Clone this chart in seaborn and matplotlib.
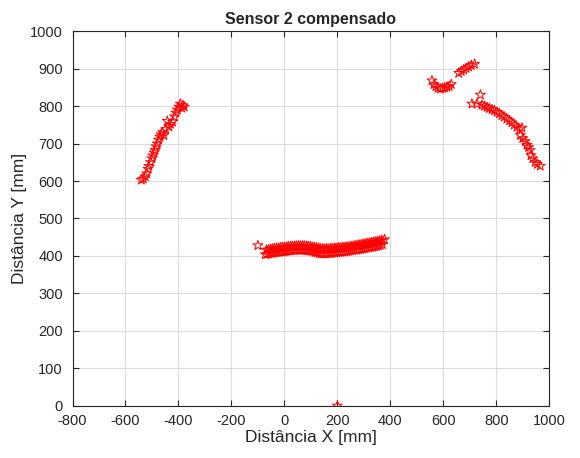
import numpy as np
import pandas as pd
import matplotlib
matplotlib.use("Agg")
import matplotlib.pyplot as plt
import seaborn as sns

# left wall
x_left = [-540, -533, -525, -520, -515, -512, -505, -500, -497, -492, -488, -484, -480,
          -475, -470, -466, -460, -455, -448, -442, -436, -430, -422, -415, -410, -404,
          -398, -393, -388, -383, -378]
y_left = [603, 606, 612, 620, 632, 640, 650, 660, 668, 676, 683, 692, 700,
          710, 718, 724, 730, 722, 738, 760, 745, 752, 758, 772, 782, 790,
          798, 806, 795, 802, 798]

# right wall, upper part
x_rup = [557, 565, 572, 580, 589, 597, 605, 614, 622, 630, 658, 668, 677, 686, 695, 706, 718]
y_rup = [868, 858, 852, 848, 846, 848, 849, 851, 853, 858, 888, 893, 897, 901, 905, 909, 912]

# right wall, lower part
x_rlow = [708, 727, 740, 746, 755, 765, 774, 784, 793, 803, 812, 821, 830, 840, 850,
          859, 868, 878, 888, 897, 891, 900, 909, 916, 922, 928, 931, 938, 947, 955, 966]
y_rlow = [806, 806, 830, 803, 800, 797, 794, 791, 788, 784, 780, 775, 771, 766, 761,
          756, 750, 744, 738, 742, 722, 714, 706, 696, 690, 682, 668, 660, 650, 645, 640]

# front wall
x_mid = [-100, -72, -65, -58, -50, -42, -35, -28, -20, -12, -5, 3, 10, 18, 25, 33, 40,
         48, 55, 63, 70, 78, 85, 93, 100, 108, 115, 123, 130, 138, 145, 153, 160,
         168, 175, 183, 190, 198, 205, 213, 220, 228, 235, 243, 250, 258, 265, 273,
         280, 288, 295, 303, 310, 318, 325, 333, 340, 348, 355, 362, 370,
         -68, -60, -52, -45, -37, -30, -22, -15, -7, 0, 8, 15, 23, 30, 38, 45, 53,
         60, 68, 75, 83, 90, 98, 105, 113, 120, 128, 135, 143, 150, 158, 165, 173,
         180, 188, 195, 203, 210, 218, 225, 233, 240, 248, 255, 263, 270, 278, 285,
         293, 300, 308, 315, 323, 330, 338, 345, 352, 360, 368, 378]
y_mid = [428, 404, 405, 406, 407, 408, 409, 410, 410, 411, 411, 412, 413, 414, 414, 415, 415,
         416, 416, 416, 416, 415, 414, 414, 413, 412, 410, 409, 407, 406, 406, 406, 406,
         407, 407, 408, 409, 409, 410, 410, 411, 411, 412, 413, 414, 415, 416, 416,
         417, 418, 419, 420, 421, 422, 423, 424, 425, 426, 427, 429, 431,
         416, 417, 418, 419, 420, 421, 421, 422, 423, 423, 424, 425, 425, 426, 426, 427, 427,
         427, 427, 427, 426, 426, 425, 424, 423, 422, 421, 420, 419, 419, 419, 419, 420,
         420, 421, 421, 422, 422, 423, 423, 424, 424, 425, 426, 427, 428, 429, 430,
         431, 432, 433, 434, 435, 436, 437, 438, 439, 440, 442, 444]

# lone point on the floor
x_floor = [200]
y_floor = [0]

df = pd.DataFrame({
    "x": x_left + x_rup + x_rlow + x_mid + x_floor,
    "y": y_left + y_rup + y_rlow + y_mid + y_floor,
})

sns.set_style("white")
plt.rcParams["font.family"] = ["Liberation Sans", "DejaVu Sans"]
plt.rcParams["axes.unicode_minus"] = False

fig = plt.figure(figsize=(5.8, 4.58), dpi=100)
ax = fig.add_axes([0.125, 0.114, 0.822, 0.818])

sns.scatterplot(data=df, x="x", y="y", ax=ax, marker="*", s=55,
                facecolor="none", edgecolor="red", linewidth=0.7, zorder=3)

ax.set_xlim(-800, 1000)
ax.set_ylim(0, 1000)
ax.set_xticks(np.arange(-800, 1001, 200))
ax.set_yticks(np.arange(0, 1001, 100))
ax.grid(True, color="#dcdcdc", linewidth=0.8)
ax.set_axisbelow(True)
for s in ax.spines.values():
    s.set_color("#262626")
    s.set_linewidth(0.8)
ax.tick_params(direction="in", length=4, labelsize=10.5, colors="#262626",
               top=True, right=True, bottom=True, left=True)
ax.tick_params(axis="x", pad=6)
ax.tick_params(axis="y", pad=7)

ax.set_title("Sensor 2 compensado", fontsize=11.5, fontweight="bold", pad=5)
ax.set_xlabel("Distância X [mm]", fontsize=12.5, labelpad=1)
ax.set_ylabel("Distância Y [mm]", fontsize=12.5, labelpad=2)

fig.savefig("out.png", dpi=100)
